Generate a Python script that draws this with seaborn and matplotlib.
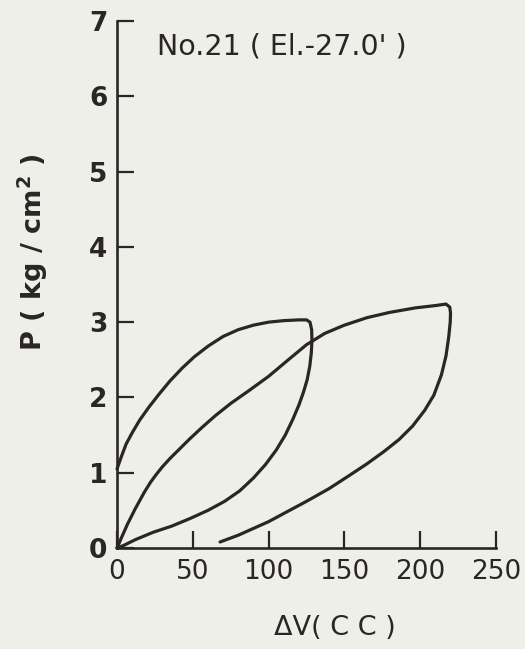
import matplotlib
matplotlib.use("Agg")
import matplotlib.pyplot as plt
import pandas as pd
import seaborn as sns

# Cycle 1: first loading (upper-left branch) and unloading back to origin
dv_load1 = [0, 3, 6, 10, 15, 21, 28, 35, 43, 51, 60, 70, 80, 90, 100, 110, 120, 125]
p_load1 = [1.05, 1.22, 1.38, 1.53, 1.70, 1.87, 2.05, 2.22, 2.39, 2.54, 2.68, 2.81, 2.90,
           2.96, 3.00, 3.02, 3.03, 3.03]
dv_unload1 = [127.3, 128.4, 128.6, 128.2, 127.2, 125.5, 123, 120, 116, 111, 105, 98, 90,
              81, 71, 60, 48, 36, 24, 12, 4, 0]
p_unload1 = [3.00, 2.90, 2.76, 2.60, 2.42, 2.24, 2.07, 1.90, 1.71, 1.50, 1.30, 1.11, 0.93,
             0.76, 0.62, 0.50, 0.39, 0.29, 0.21, 0.11, 0.03, 0]

# Cycle 2: reloading from origin and unloading
dv_reload2 = [0, 3, 7, 12, 18, 22, 26, 30, 35, 41, 48, 56, 65, 75, 87, 100, 113, 125, 137,
              150, 165, 180, 197, 210, 217]
p_reload2 = [0, 0.14, 0.32, 0.52, 0.74, 0.87, 0.98, 1.08, 1.19, 1.31, 1.45, 1.60, 1.76,
             1.92, 2.09, 2.28, 2.50, 2.70, 2.85, 2.96, 3.06, 3.13, 3.19, 3.22, 3.24]
dv_unload2 = [219.5, 220, 219.8, 218.8, 217, 214, 209, 203, 195, 186, 176, 165, 153, 140,
              125, 112, 100, 90, 80, 68]
p_unload2 = [3.20, 3.12, 3.00, 2.80, 2.55, 2.30, 2.03, 1.83, 1.62, 1.44, 1.28, 1.12, 0.96,
             0.79, 0.62, 0.48, 0.35, 0.26, 0.17, 0.08]

x_ticks = [0, 50, 100, 150, 200, 250]
y_ticks = [0, 1, 2, 3, 4, 5, 6, 7]
title_text = "No.21 ( El.-27.0' )"
x_label = "ΔV( C C )"
y_label = "P ( kg / cm$^2$ )"

paper = "#efefea"
ink = "#2b2626"

sns.set_theme(style="ticks")
plt.rcParams["font.family"] = ["DejaVu Sans"]
plt.rcParams["mathtext.default"] = "regular"

rows = []
for cyc, (xs, ys) in {
    "1": (dv_load1 + dv_unload1, p_load1 + p_unload1),
    "2": (dv_reload2 + dv_unload2, p_reload2 + p_unload2),
}.items():
    for i, (x, y) in enumerate(zip(xs, ys)):
        rows.append({"cycle": cyc, "order": i, "dv": x, "p": y})
df = pd.DataFrame(rows)

fig = plt.figure(figsize=(5.25, 6.49), dpi=100, facecolor=paper)
ax = fig.add_axes([117 / 525, 1 - 548 / 649, 379 / 525, 527 / 649])
ax.set_facecolor(paper)

sns.lineplot(data=df, x="dv", y="p", units="cycle", estimator=None, sort=False,
             color=ink, lw=2.3, ax=ax, clip_on=False, legend=False,
             solid_joinstyle="round", solid_capstyle="round")

ax.set_xlim(0, 250)
ax.set_ylim(0, 7)
ax.set_xticks(x_ticks)
ax.set_yticks(y_ticks)
ax.set_xticklabels([str(t) for t in x_ticks], fontsize=19, color=ink)
ax.set_yticklabels([str(t) for t in y_ticks], fontsize=19, color=ink, fontweight="bold")
ax.tick_params(axis="both", direction="in", length=12, width=1.6, color=ink)
ax.tick_params(axis="x", pad=8)
ax.tick_params(axis="y", pad=7)
ax.set_xlabel("")
ax.set_ylabel("")
sns.despine(ax=ax)
for side in ("left", "bottom"):
    ax.spines[side].set_linewidth(1.9)
    ax.spines[side].set_color(ink)

fig.text(157 / 525, 1 - 55 / 649, title_text, fontsize=20.5, color=ink,
         ha="left", va="baseline")
fig.text(335 / 525, 1 - 635 / 649, x_label, fontsize=19.5, color=ink,
         ha="center", va="baseline")
fig.text(42 / 525, 1 - 252 / 649, y_label, fontsize=19.5, color=ink,
         fontweight="bold", rotation=90, rotation_mode="anchor",
         ha="center", va="baseline")

fig.savefig("out.png", dpi=100, facecolor=paper)
